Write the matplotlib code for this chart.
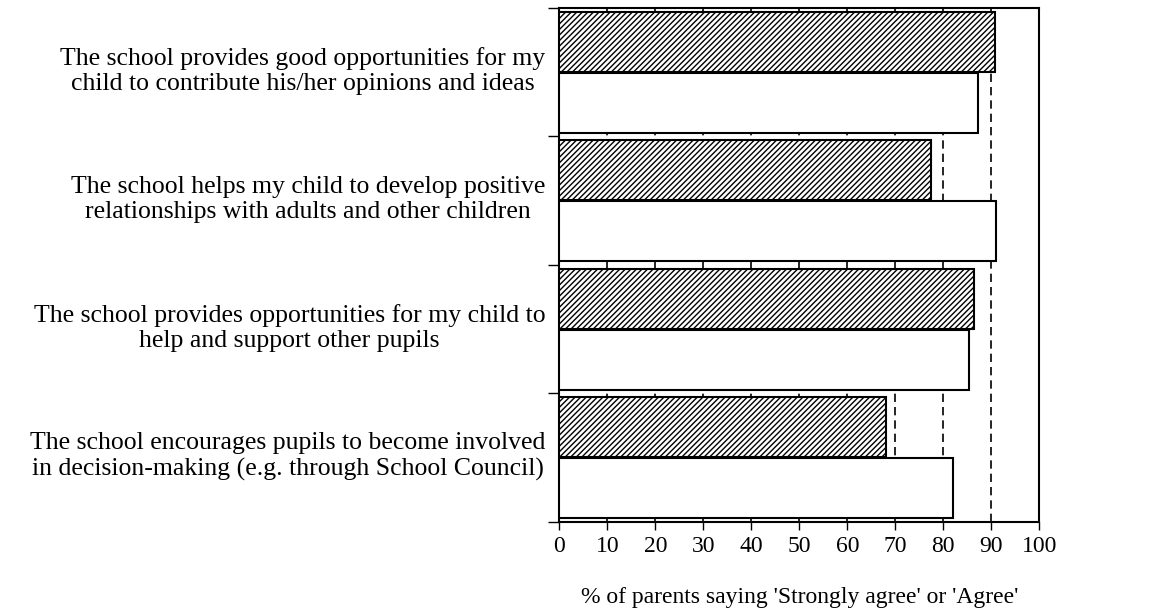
import numpy as np
import matplotlib.pyplot as plt
import matplotlib.transforms as mtransforms

plt.rcParams['font.family'] = ['Liberation Serif', 'DejaVu Serif']
plt.rcParams['hatch.linewidth'] = 1.0
plt.rcParams['hatch.color'] = '#333333'

statements = [
    "The school provides good opportunities for my\nchild to contribute his/her opinions and ideas",
    "The school helps my child to develop positive\nrelationships with adults and other children",
    "The school provides opportunities for my child to\nhelp and support other pupils",
    "The school encourages pupils to become involved\nin decision-making (e.g. through School Council)",
]
hatched_vals = [90.8, 77.4, 86.4, 68.0]
plain_vals = [87.3, 91.0, 85.3, 82.0]
x_ticks = list(range(0, 101, 10))

fig = plt.figure(figsize=(11.51, 6.14), dpi=100)
ax = fig.add_axes([0.486, 0.15, 0.417, 0.837])

pos = np.arange(len(statements))
h = 0.465
ax.barh(pos - 0.237, hatched_vals, height=h, color="white", edgecolor="black",
        hatch="//////", linewidth=1.5, zorder=3)
ax.barh(pos + 0.237, plain_vals, height=h, color="white", edgecolor="black",
        linewidth=1.5, zorder=3)

for xv in x_ticks[1:-1]:
    ax.axvline(xv, color="black", linestyle=(0, (5, 3)), linewidth=1.2, zorder=1)

ax.set_xlim(0, 100)
ax.set_ylim(len(statements) - 0.5, -0.5)
ax.set_xticks(x_ticks)
ax.set_xticklabels([str(v) for v in x_ticks], fontsize=17)
ax.tick_params(axis="x", direction="out", length=6, width=1, pad=4)

ax.set_yticks(np.arange(-0.5, len(statements), 1.0))
ax.set_yticklabels([])
ax.tick_params(axis="y", which="major", direction="out", length=8, width=1)
ax.set_yticks(pos, minor=True)
ax.set_yticklabels(statements, minor=True, fontsize=18.5, ha="right")
ax.tick_params(axis="y", which="minor", length=0, pad=10)
# nudge the statements up a little
shift = mtransforms.ScaledTranslation(0, 4 / 72, fig.dpi_scale_trans)
for lbl in ax.get_yticklabels(minor=True):
    lbl.set_multialignment("center")
    lbl.set_linespacing(1.2)
    lbl.set_transform(lbl.get_transform() + shift)

for sp in ax.spines.values():
    sp.set_linewidth(1.5)

ax.set_xlabel("% of parents saying 'Strongly agree' or 'Agree'", fontsize=17, labelpad=22)

fig.savefig("out.png", dpi=100)
